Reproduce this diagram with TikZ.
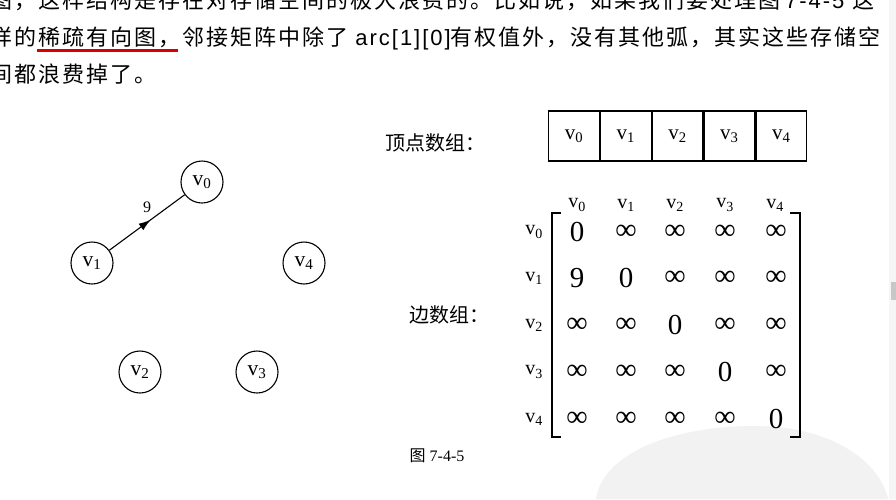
\documentclass[tikz,border=0pt]{standalone}
\usepackage{fontspec}
\setmainfont{Liberation Serif}
\newfontfamily\cjk{Noto Sans CJK SC}
\newfontfamily\cjkbody[LetterSpace=9]{Noto Sans CJK SC}
\newfontfamily\latbody[LetterSpace=9]{Liberation Sans}
\usetikzlibrary{decorations.markings,arrows.meta,positioning}
\newcommand\vlab[1]{v\textsubscript{#1}}
\begin{document}
\begin{tikzpicture}[x=1pt,y=-1pt,
  body/.style={anchor=west,inner sep=0pt,font=\cjkbody\fontsize{22}{22}\selectfont},
  vert/.style={circle,draw,line width=1.1pt,minimum size=42pt,inner sep=0pt,font=\fontsize{21.5}{21.5}\selectfont},
  cell/.style={draw,line width=1.2pt,minimum width=50.6pt,minimum height=50pt,inner sep=0pt,font=\fontsize{21}{21}\selectfont},
  hd/.style={inner sep=0pt,font=\fontsize{20}{20}\selectfont},
  zero/.style={inner sep=0pt,font=\fontsize{29}{29}\selectfont},
  inf/.style={inner sep=0pt,font=\fontsize{30}{30}\selectfont},
  lbl/.style={inner sep=0pt,font=\cjk\fontsize{20}{20}\selectfont},
  brk/.style={line width=1.5pt},
  midarrow/.style={postaction={decorate},decoration={markings,mark=at position 0.55 with {\arrow{Latex[length=12pt,width=8pt]}}}}
]
\useasboundingbox (0,0) rectangle (896,499);
\clip (0,0) rectangle (896,499);
\fill[white] (0,0) rectangle (896,499);
% watermark
\fill[black!5] (596,499) .. controls (603,452) and (675,426) .. (755,426) .. controls (832,426) and (880,462) .. (888,499) -- cycle;
% right edge strip
\fill[black!4] (889,0) rectangle (896,499);
\fill[black!22] (891,282) rectangle (896,300);
% body text
\node[body] (l1) at (-9.4,0) {图，这样结构是存在对存储空间的极大浪费的。比如说，如果我们要处理图\hspace{5pt}{\latbody 7-4-5}\hspace{8pt}这};
\node[body] (l2) at (-9.4,38) {样的稀疏有向图，邻接矩阵中除了 {\latbody arc[1][0]}有权值外，没有其他弧，其实这些存储空};
\node[body] (l3) at (-9.4,74) {间都浪费掉了。};
\fill[red!85!black] (37,49) rectangle (178,51.5);
% graph
\node[vert] (v0) at (202,182) {\vlab{0}};
\node[vert] (v1) at (92,263) {\vlab{1}};
\node[vert] (v4) at (304,263) {\vlab{4}};
\node[vert] (v2) at (140,372) {\vlab{2}};
\node[vert] (v3) at (257,372) {\vlab{3}};
\draw[line width=1.1pt,midarrow] (v1) -- (v0) node[midway,above=9pt,inner sep=0pt,font=\fontsize{16}{16}\selectfont] (w) {9};
% vertex array
\node[lbl] (la) at (435,143) {顶点数组：};
\node[cell] (c0) at (574,136) {\vlab{0}};
\node[cell,right=0pt of c0] (c1) {\vlab{1}};
\node[cell,right=0pt of c1] (c2) {\vlab{2}};
\node[cell,right=0pt of c2] (c3) {\vlab{3}};
\node[cell,right=0pt of c3] (c4) {\vlab{4}};
% edge matrix
\node[lbl] (lb) at (449,315) {边数组：};
\foreach \c/\x in {0/577,1/626,2/675,3/725,4/775}{
  \node[hd] (h\c) at (\x,205) {\vlab{\c}};
}
\foreach \r/\y in {0/232,1/278,2/325,3/372,4/419}{
  \node[hd] (r\r) at (534,\y) {\vlab{\r}};
  \foreach \c/\x in {0/577,1/626,2/675,3/725,4/776}{
    \ifnum\r=\c
      \node[zero] (m\r\c) at (\x,\y) {0};
    \else
      \ifnum\r=1 \ifnum\c=0
        \node[zero] (m\r\c) at (\x,\y) {9};
      \else
        \node[inf] (m\r\c) at (\x,\y) {∞};
      \fi
      \else
        \node[inf] (m\r\c) at (\x,\y) {∞};
      \fi
    \fi
  }
}
\coordinate (bl1) at (561,213);
\coordinate (bl2) at (552,213);
\coordinate (bl3) at (552,437);
\coordinate (bl4) at (561,437);
\coordinate (br1) at (790,213);
\coordinate (br2) at (800,213);
\coordinate (br3) at (800,437);
\coordinate (br4) at (790,437);
\draw[brk] (bl1) -- (bl2) -- (bl3) -- (bl4);
\draw[brk] (br1) -- (br2) -- (br3) -- (br4);
% caption
\node[inner sep=0pt,font=\fontsize{16}{16}\selectfont] (cap) at (437,456) {{\cjk 图} 7-4-5};
\end{tikzpicture}
\end{document}
